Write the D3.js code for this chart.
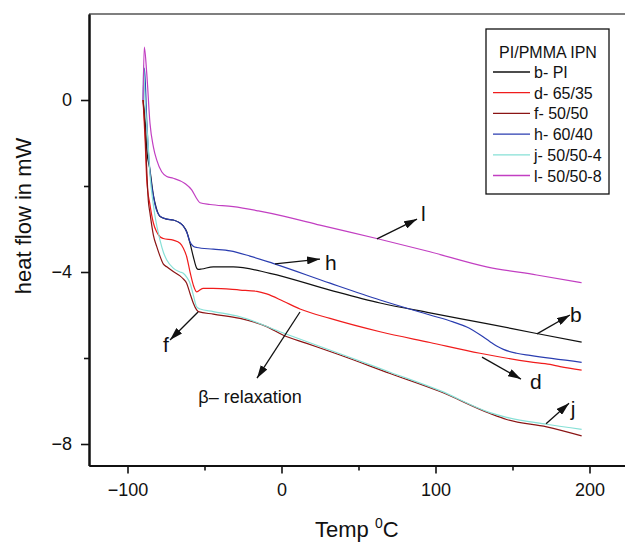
<!DOCTYPE html>
<html>
<head>
<meta charset="utf-8">
<script src="https://cdn.jsdelivr.net/npm/d3@7"></script>
<style>
  body { margin: 0; background: #fff; }
  text { font-family: "Liberation Sans", Arial, Helvetica, sans-serif; fill: #111; }
</style>
</head>
<body>
<svg id="chart" width="625" height="543"></svg>
<script>
// DSC traces (temperature in degC, heat flow in mW)
const bTemp = [-89.9, -88.6, -87.5, -85.4, -83.2, -82.1, -78.9, -74.5, -70.3, -65.9, -63.8, -61.6, -59.4, -57.3, -55.1, -54.0, -51.8, -44.3, -31.3, -7.5, 31.5, 64.0, 96.4, 133.2, 165.7, 194.9];
const bFlow = [0, -0.47, -1.16, -1.63, -2.21, -2.40, -2.71, -2.77, -2.79, -2.86, -2.93, -3.06, -3.33, -3.64, -3.91, -3.94, -3.93, -3.88, -3.88, -4.03, -4.42, -4.72, -4.95, -5.20, -5.43, -5.63];

const dTemp = [-89.9, -88.6, -87.5, -85.4, -83.2, -81.0, -78.9, -76.8, -70.3, -65.9, -63.8, -61.6, -59.4, -57.3, -55.1, -51.0, -44.5, -26.9, -16.0, -9.6, 1.2, 12.0, 31.5, 64.0, 96.4, 128.9, 161.4, 174.4, 180.9, 194.9];
const dFlow = [0, -0.9, -1.86, -2.44, -2.86, -3.07, -3.18, -3.22, -3.26, -3.33, -3.44, -3.64, -4.00, -4.30, -4.46, -4.38, -4.38, -4.42, -4.45, -4.51, -4.68, -4.86, -5.08, -5.39, -5.64, -5.89, -6.09, -6.15, -6.20, -6.28];

const fTemp = [-89.9, -88.6, -87.5, -86.5, -85.4, -83.2, -81.0, -78.9, -76.8, -74.5, -70.3, -65.9, -63.8, -61.6, -59.4, -57.3, -55.1, -54.0, -44.3, -26.9, -9.6, 1.2, 16.4, 38.0, 70.5, 102.9, 135.4, 146.2, 172.2, 194.9];
const fFlow = [0, -0.70, -1.63, -2.33, -2.63, -3.14, -3.41, -3.63, -3.81, -3.88, -3.99, -4.09, -4.16, -4.26, -4.50, -4.72, -4.88, -4.92, -4.98, -5.08, -5.27, -5.47, -5.66, -5.93, -6.36, -6.78, -7.29, -7.43, -7.60, -7.81];

const hTemp = [-89.9, -89.0, -87.5, -86.5, -85.4, -83.2, -82.1, -78.9, -74.5, -70.3, -65.9, -63.8, -61.6, -59.4, -57.3, -55.1, -44.3, -33.4, -20.5, -5.5, 31.5, 64.0, 96.4, 111.4, 120.3, 128.9, 135.4, 139.7, 144.1, 152.7, 161.4, 194.9];
const hFlow = [0, 0.74, -0.47, -1.16, -1.67, -2.23, -2.44, -2.70, -2.77, -2.79, -2.86, -2.93, -3.07, -3.30, -3.40, -3.43, -3.47, -3.51, -3.63, -3.80, -4.26, -4.65, -5.00, -5.16, -5.28, -5.46, -5.62, -5.72, -5.80, -5.89, -5.94, -6.10];

const jTemp = [-89.9, -89.6, -88.6, -87.5, -86.5, -85.4, -83.2, -82.1, -78.9, -76.8, -74.5, -70.3, -65.9, -63.8, -61.6, -59.4, -57.3, -55.1, -52.9, -44.3, -26.9, 1.2, 38.0, 70.5, 102.9, 135.4, 146.2, 172.2, 194.9];
const jFlow = [0, 0.81, 0, -0.58, -1.09, -1.74, -2.44, -2.71, -3.26, -3.53, -3.72, -3.91, -4.00, -4.03, -4.12, -4.26, -4.53, -4.81, -4.86, -4.92, -5.04, -5.42, -5.90, -6.33, -6.76, -7.27, -7.38, -7.54, -7.66];

const lTemp = [-89.9, -89.1, -87.5, -85.4, -83.2, -81.0, -77.8, -74.5, -70.3, -62.7, -58.3, -55.1, -52.9, -46.4, -31.3, -15.0, 1.2, 25.0, 61.8, 96.4, 133.2, 165.7, 194.9];
const lFlow = [0, 1.23, 0.62, -0.54, -1.09, -1.40, -1.67, -1.78, -1.82, -1.94, -2.09, -2.29, -2.39, -2.43, -2.48, -2.58, -2.70, -2.91, -3.22, -3.53, -3.88, -4.07, -4.25];

const legendTitle = "PI/PMMA IPN";
const seriesNames = ["b- PI", "d- 65/35", "f- 50/50", "h- 60/40", "j- 50/50-4", "l- 50/50-8"];
const seriesColors = ["#111111", "#f01c1c", "#8a1414", "#2a3db0", "#86e0d6", "#c23fc2"];
const xMajor = [-100, 0, 100, 200];
const xMinor = [-50, 50, 150];
const yMajor = [-8, -4, 0];
const yMinor = [-6, -2];

// annotations: label and arrow in data units
const notes = [
  { text: "l", at: [90.6, -2.81], from: [62.0, -3.23], to: [88.0, -2.77] },
  { text: "h", at: [28.2, -3.95], from: [-4.2, -3.81], to: [25.0, -3.70] },
  { text: "b", at: [187.3, -5.16], from: [165.9, -5.44], to: [187.3, -5.00] },
  { text: "d", at: [161.4, -6.72], from: [130.2, -5.98], to: [155.5, -6.49] },
  { text: "j", at: [187.9, -7.35], from: [171.8, -7.53], to: [186.7, -7.05] },
  { text: "f", at: [-77.0, -5.86], from: [-54.2, -4.93], to: [-72.4, -5.58] },
  { text: "\u03b2\u2013 relaxation", at: [-54.0, -7.05], from: [12.0, -4.93], to: [-15.9, -6.47], small: true }
];

const series = [
  { t: bTemp, v: bFlow }, { t: dTemp, v: dFlow }, { t: fTemp, v: fFlow },
  { t: hTemp, v: hFlow }, { t: jTemp, v: jFlow }, { t: lTemp, v: lFlow }
];

const svg = d3.select("#chart");

const x = d3.scaleLinear().domain([-125, 225]).range([89, 628]);
const y = d3.scaleLinear().domain([-8.5, 2]).range([465.5, 14]);

// top frame line
svg.append("line")
  .attr("x1", x(-125)).attr("x2", 625)
  .attr("y1", y(2)).attr("y2", y(2))
  .attr("stroke", "#555").attr("stroke-width", 1.3);

// axes
svg.append("g").attr("transform", `translate(0,${y(-8.5)})`)
  .call(d3.axisBottom(x).tickValues(xMajor).tickSize(8).tickSizeOuter(0).tickPadding(10));
svg.append("g").attr("transform", `translate(0,${y(-8.5)})`)
  .call(d3.axisBottom(x).tickValues(xMinor).tickSize(5).tickSizeOuter(0).tickFormat(""));
svg.append("g").attr("transform", `translate(${x(-125)},0)`)
  .call(d3.axisLeft(y).tickValues(yMajor).tickSize(8).tickSizeOuter(0).tickPadding(9));
svg.append("g").attr("transform", `translate(${x(-125)},0)`)
  .call(d3.axisLeft(y).tickValues(yMinor).tickSize(5).tickSizeOuter(0).tickFormat(""));

svg.selectAll(".domain").attr("stroke", "#111").attr("stroke-width", 2);
svg.selectAll(".tick line").attr("stroke", "#111").attr("stroke-width", 1.6);
svg.selectAll(".tick text").attr("font-size", 18).attr("fill", "#111")
  .style("font-family", '"Liberation Sans", Arial, sans-serif');

// curves
const line = d3.line()
  .x(d => x(d[0]))
  .y(d => y(d[1]))
  .curve(d3.curveMonotoneX);

series.forEach((s, i) => {
  svg.append("path")
    .datum(s.t.map((t, k) => [t, s.v[k]]))
    .attr("fill", "none")
    .attr("stroke", seriesColors[i])
    .attr("stroke-width", 1.2)
    .attr("d", line);
});

// arrows
svg.append("defs").append("marker")
  .attr("id", "head")
  .attr("viewBox", "0 0 13 8")
  .attr("refX", 13).attr("refY", 4)
  .attr("markerWidth", 13).attr("markerHeight", 8)
  .attr("markerUnits", "userSpaceOnUse")
  .attr("orient", "auto")
  .append("path").attr("d", "M0,0 L13,4 L0,8 Z").attr("fill", "#111");

notes.forEach(n => {
  svg.append("line")
    .attr("x1", x(n.from[0])).attr("y1", y(n.from[1]))
    .attr("x2", x(n.to[0])).attr("y2", y(n.to[1]))
    .attr("stroke", "#111").attr("stroke-width", 1.3)
    .attr("marker-end", "url(#head)");
  svg.append("text")
    .attr("x", x(n.at[0])).attr("y", y(n.at[1]))
    .attr("font-size", n.small ? 18 : 21)
    .text(n.text);
});

// axis titles
svg.append("text")
  .attr("transform", "translate(31,216) rotate(-90)")
  .attr("text-anchor", "middle")
  .attr("font-size", 22)
  .text("heat flow in mW");

const xt = svg.append("text").attr("x", 315).attr("y", 537).attr("font-size", 22);
xt.append("tspan").text("Temp ");
xt.append("tspan").attr("font-size", 14).attr("dy", -9).text("0");
xt.append("tspan").attr("dy", 9).text("C");

// legend
const lg = svg.append("g");
lg.append("rect")
  .attr("x", 486).attr("y", 29).attr("width", 123).attr("height", 165)
  .attr("fill", "#fff").attr("stroke", "#111").attr("stroke-width", 1.3);
lg.append("text").attr("x", 548).attr("y", 58)
  .attr("text-anchor", "middle").attr("font-size", 16).text(legendTitle);
seriesNames.forEach((name, i) => {
  const yy = 72 + i * 20.7;
  lg.append("line").attr("x1", 493).attr("x2", 530).attr("y1", yy).attr("y2", yy)
    .attr("stroke", seriesColors[i]).attr("stroke-width", 1.3);
  lg.append("text").attr("x", 534).attr("y", yy + 6).attr("font-size", 16).text(name);
});
</script>
</body>
</html>
